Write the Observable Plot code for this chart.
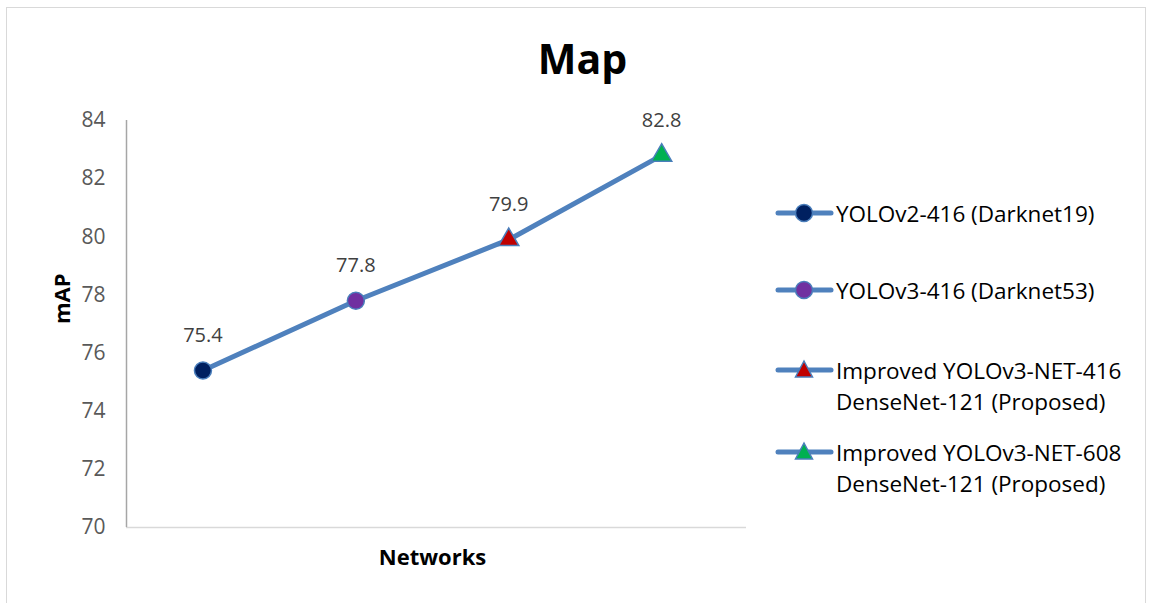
<!DOCTYPE html>
<html>
<head>
<meta charset="utf-8">
<script src="https://cdn.jsdelivr.net/npm/d3@7"></script>
<script src="https://cdn.jsdelivr.net/npm/@observablehq/plot@0.6"></script>
<style>
  html, body { margin: 0; padding: 0; background: #fff; }
  #wrap { position: relative; width: 1153px; height: 603px; font-family: "Open Sans", "Liberation Sans", sans-serif; }
  #border { position: absolute; left: 6px; top: 7px; width: 1140px; height: 600px; border: 1.5px solid #d9d9d9; box-sizing: border-box; }
  #legend { position: absolute; left: 774px; top: 0; font-size: 22.5px; color: #000; }
  .item { position: absolute; left: 0; display: flex; align-items: flex-start; white-space: nowrap; line-height: 31px; }
  .item svg { flex: none; margin-top: 1.5px; }
</style>
</head>
<body>
<div id="wrap">
  <div id="border"></div>
  <div id="chart"></div>
  <div id="legend"></div>
</div>
<script>
const networks = [
  "YOLOv2-416 (Darknet19)",
  "YOLOv3-416 (Darknet53)",
  "Improved YOLOv3-NET-416\nDenseNet-121 (Proposed)",
  "Improved YOLOv3-NET-608\nDenseNet-121 (Proposed)"
];
const mapValues = [75.4, 77.8, 79.9, 82.8];
const markerColors = ["#002060", "#7030a0", "#c00000", "#00b050"];
const markerSymbols = ["circle", "circle", "triangle", "triangle"];
const yTicks = [70, 72, 74, 76, 78, 80, 82, 84];

const lineColor = "#4f81bd";
const data = networks.map((n, i) => ({ i, name: n, value: mapValues[i], color: markerColors[i], symbol: markerSymbols[i] }));

const chart = Plot.plot({
  width: 1153,
  height: 603,
  marginLeft: 126,
  marginRight: 407,
  marginTop: 120,
  marginBottom: 76,
  style: { fontFamily: "'Open Sans', 'Liberation Sans', sans-serif", background: "transparent" },
  x: { domain: [-0.5, 3.555], axis: null },
  y: { domain: [70, 84], ticks: yTicks, label: null, axis: null },
  marks: [
    Plot.text(yTicks, { x: -0.5, y: d => d, text: d => String(d), textAnchor: "end", dx: -21, fontSize: 21, fill: "#595959" }),
    Plot.ruleY([70], { stroke: "#d9d9d9", strokeWidth: 1.5 }),
    Plot.ruleX([-0.5], { y1: 70, y2: 84, stroke: "#a6a6a6", strokeWidth: 1.5 }),
    Plot.line(data, { x: "i", y: "value", stroke: lineColor, strokeWidth: 5 }),
    Plot.dot(data.filter(d => d.symbol === "circle"), { x: "i", y: "value", symbol: "circle", r: 8.5, fill: d => d.color, stroke: "#4a7ebb", strokeWidth: 1.5 }),
    Plot.dot(data.filter(d => d.symbol === "triangle"), { x: "i", y: "value", symbol: "triangle", r: 7.5, fill: d => d.color, stroke: "#4a7ebb", strokeWidth: 1.5 }),
    Plot.text(data, { x: "i", y: "value", text: d => d.value.toFixed(1), dy: -35, fontSize: 20, fill: "#404040" }),
    Plot.text(["Map"], { frameAnchor: "top", lineAnchor: "middle", dx: 146, dy: -60, fontSize: 41, fontWeight: "bold", fill: "#000" }),
    Plot.text(["Networks"], { frameAnchor: "bottom", lineAnchor: "middle", dx: -4, dy: 30, fontSize: 22, fontWeight: "bold", fill: "#000" }),
    Plot.text(["mAP"], { frameAnchor: "left", lineAnchor: "middle", dx: -64, rotate: -90, fontSize: 22, fontWeight: "bold", fill: "#000" })
  ]
});
document.getElementById("chart").appendChild(chart);

// Legend
const legend = document.getElementById("legend");
const legendTops = [197.5, 274.5, 354.5, 436.5];
data.forEach((d, k) => {
  const item = document.createElement("div");
  item.className = "item";
  item.style.top = legendTops[k] + "px";
  const sym = d.symbol === "circle"
    ? `<circle cx="30" cy="14" r="8.5" fill="${d.color}" stroke="#4a7ebb" stroke-width="1.5"/>`
    : `<path d="M30,5 L38.5,21 L21.5,21 Z" fill="${d.color}" stroke="#4a7ebb" stroke-width="1.5"/>`;
  item.innerHTML = `<svg width="62" height="28"><line x1="4" y1="14" x2="57" y2="14" stroke="${lineColor}" stroke-width="5" stroke-linecap="round"/>${sym}</svg><div>${d.name.replace("\n", "<br>")}</div>`;
  legend.appendChild(item);
});
</script>
</body>
</html>
